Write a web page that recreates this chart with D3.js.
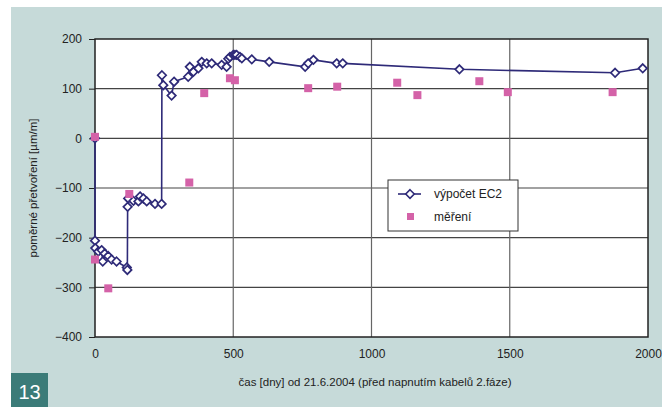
<!DOCTYPE html>
<html><head><meta charset="utf-8">
<script src="https://cdn.jsdelivr.net/npm/d3@7/dist/d3.min.js"></script>
<style>body{margin:0;background:#fff}svg{display:block;font-family:"Liberation Sans",Arial,sans-serif}</style>
</head><body><svg id="c" width="662" height="407"></svg>
<script>
const calcDays = [0,0,1,12,24,28,35,48,60,78,115,117,118,120,139,157,163,175,187,217,241,242,247,277,286,337,343,356,374,386,404,422,458,476,482,488,500,506,512,524,531,567,630,760,771,790,874,896,1318,1881,1981];
const calcValues = [0,-206,-221,-228,-225,-248,-232,-237,-244,-248,-260,-265,-138,-121,-126,-127,-117,-121,-127,-132,-132,127,107,86,114,124,144,134,141,154,151,151,148,144,160,164,168,168,168,164,161,159,154,144,151,158,151,151,139,132,141];
const measDays = [0,0,48,124,341,395,488,506,771,876,1093,1166,1390,1493,1872];
const measValues = [3,-244,-302,-112,-89,91,121,117,101,104,112,87,115,93,93];
const xTicks = [0,500,1000,1500,2000];
const yTicks = [-400,-300,-200,-100,0,100,200];
const seriesNames = ["výpočet EC2","měření"];
const xTitle = "čas [dny] od 21.6.2004 (před napnutím kabelů 2.fáze)";
const yTitle = "poměrné přetvoření [µm/m]";
const figLabel = "13";

const svg = d3.select("#c");
const L=95,R=648,T=39,B=337;
const x = d3.scaleLinear().domain([0,2000]).range([L,R]);
const y = d3.scaleLinear().domain([-400,200]).range([B,T]);
const navy="#2e2a78", pink="#d462a8";

svg.append("rect").attr("x",11).attr("y",7).attr("width",651).attr("height",400).attr("fill","#c6dad9");
svg.append("rect").attr("x",L).attr("y",T).attr("width",R-L).attr("height",B-T).attr("fill","#fff");

// grid
svg.append("g").selectAll("line").data(yTicks.slice(1,-1)).join("line")
  .attr("x1",L).attr("x2",R).attr("y1",d=>y(d)).attr("y2",d=>y(d)).attr("stroke","#444").attr("stroke-width",1.2);
svg.append("g").selectAll("line").data(xTicks.slice(1,-1)).join("line")
  .attr("y1",T).attr("y2",B).attr("x1",d=>x(d)).attr("x2",d=>x(d)).attr("stroke","#666").attr("stroke-width",1.2);
svg.append("rect").attr("x",L).attr("y",T).attr("width",R-L).attr("height",B-T).attr("fill","none").attr("stroke","#222").attr("stroke-width",1.5);

// axes
const yAxis = svg.append("g").attr("transform",`translate(${L},0)`)
  .call(d3.axisLeft(y).tickValues(yTicks).tickSize(6).tickPadding(7).tickFormat(d3.format("d")));
yAxis.select(".domain").remove();
yAxis.selectAll("line").attr("stroke","#222");
yAxis.selectAll("text").attr("font-size",12).attr("fill","#222").attr("font-family","Liberation Sans, Arial");
const xAxis = svg.append("g").attr("transform",`translate(0,${B})`)
  .call(d3.axisBottom(x).tickValues(xTicks).tickSize(0).tickPadding(12).tickFormat(d3.format("d")));
xAxis.select(".domain").remove();
xAxis.selectAll("text").attr("font-size",12).attr("fill","#222").attr("font-family","Liberation Sans, Arial");

svg.append("text").attr("x",375).attr("y",386).attr("text-anchor","middle").attr("font-size",11.5).attr("fill","#222").text(xTitle);
svg.append("text").attr("transform","translate(37,188) rotate(-90)").attr("text-anchor","middle").attr("font-size",11.5).attr("fill","#222").text(yTitle);

// calc series
const calc = calcDays.map((d,i)=>[d,calcValues[i]]);
svg.append("path").datum(calc).attr("d",d3.line().x(d=>x(d[0])).y(d=>y(d[1])))
  .attr("fill","none").attr("stroke",navy).attr("stroke-width",1.6);
const diamond = d3.symbol().type(d3.symbolDiamond2).size(46);
svg.append("g").selectAll("path").data(calc).join("path")
  .attr("transform",d=>`translate(${x(d[0])},${y(d[1])})`).attr("d",diamond)
  .attr("fill","#fff").attr("stroke",navy).attr("stroke-width",1.7);

// measurements
const meas = measDays.map((d,i)=>[d,measValues[i]]);
svg.append("g").selectAll("rect").data(meas).join("rect")
  .attr("x",d=>x(d[0])-4).attr("y",d=>y(d[1])-4).attr("width",8).attr("height",8).attr("fill",pink);

// legend
const lg = svg.append("g");
lg.append("rect").attr("x",388).attr("y",180).attr("width",130).attr("height",51).attr("fill","#fff").attr("stroke","#333").attr("stroke-width",1);
lg.append("line").attr("x1",398).attr("x2",421).attr("y1",194).attr("y2",194).attr("stroke",navy).attr("stroke-width",1.6);
lg.append("path").attr("transform","translate(410,194)").attr("d",diamond).attr("fill","#fff").attr("stroke",navy).attr("stroke-width",1.6);
lg.append("rect").attr("x",407).attr("y",213).attr("width",7).attr("height",7).attr("fill",pink);
lg.append("text").attr("x",434).attr("y",198).attr("font-size",12).attr("fill","#222").text(seriesNames[0]);
lg.append("text").attr("x",434).attr("y",221).attr("font-size",12).attr("fill","#222").text(seriesNames[1]);

// figure number
svg.append("rect").attr("x",11).attr("y",373).attr("width",37).attr("height",34).attr("fill","#3b7b78");
svg.append("text").attr("x",29.5).attr("y",399).attr("text-anchor","middle").attr("font-size",20).attr("fill","#fff").text(figLabel);
</script></body></html>
